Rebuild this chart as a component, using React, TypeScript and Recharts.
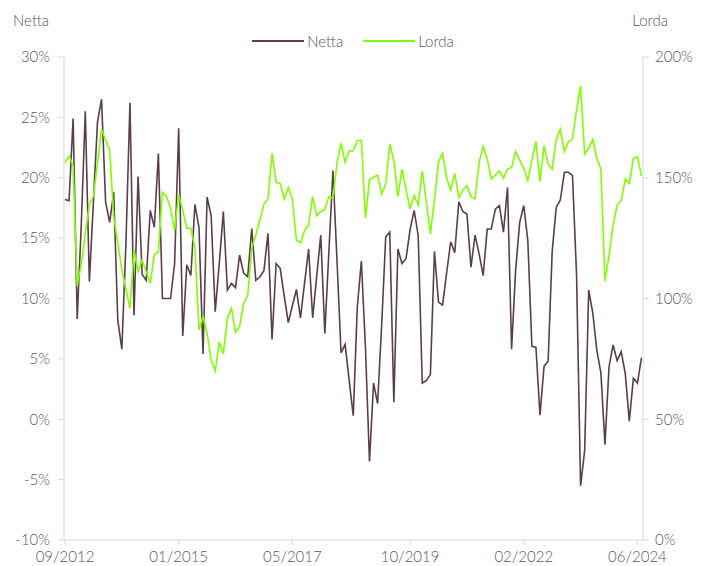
import { Legend, Line, LineChart, XAxis, YAxis } from "recharts";

const TEXT = "#595959";
const AXIS = "#d9d9d9";
const NETTA_COLOR = "#5b3e4c";
const LORDA_COLOR = "#80ff00";

// first month of the series, one point per month
const startYear = 2012;
const startMonth = 9;

const seriesNames = ["Netta", "Lorda"];

// rendimento netto, % (left axis)
const netta = [
  18.2, 18.1, 24.9, 8.3, 16.0, 25.5, 11.4, 18.0, 24.6, 26.5,
  18.0, 16.3, 18.8, 8.2, 5.8, 14.5, 26.2, 8.6, 20.1, 12.0,
  11.5, 17.3, 15.9, 22.0, 10.0, 10.0, 10.0, 12.9, 24.1, 6.9,
  12.8, 11.9, 17.8, 15.9, 5.4, 18.4, 16.85, 8.9, 12.9, 17.2,
  10.7, 11.25, 10.9, 13.6, 12.1, 11.8, 15.8, 11.5, 11.8, 12.3,
  15.4, 6.6, 12.9, 12.5, 10.2, 8.0, 9.4, 10.75, 8.4, 11.25,
  14.1, 8.4, 11.85, 15.25, 7.1, 13.9, 20.6, 13.1, 5.5, 6.2,
  3.2, 0.3, 9.3, 13.1, 6.0, -3.5, 3.0, 1.3, 7.8, 15.1,
  15.5, 1.4, 14.1, 12.9, 13.3, 15.7, 17.3, 15.2, 3.0, 3.2,
  3.7, 13.9, 9.7, 9.45, 12.1, 14.7, 13.8, 18.0, 17.2, 17.0,
  12.6, 15.25, 13.7, 11.9, 15.75, 15.75, 17.4, 17.7, 15.5, 19.2,
  5.8, 12.35, 16.3, 17.7, 14.8, 6.05, 5.95, 0.34, 4.4, 4.8,
  13.9, 17.55, 18.15, 20.45, 20.45, 20.2, 12.0, -5.5, -2.6, 10.7,
  8.8, 5.7, 3.85, -2.1, 4.35, 6.15, 4.85, 5.6, 3.8, -0.16,
  3.4, 3.0, 5.1,
];

// rendimento lordo, % (right axis)
const lorda = [
  156.2, 159, 155, 105, 114, 127, 139, 142.3, 156, 170.1,
  165.6, 161.5, 134, 123, 112, 104, 95.9, 120.1, 111.1, 116,
  111.1, 106.3, 118.2, 119.2, 144, 142.2, 137.5, 128.4, 143, 136.6,
  129.1, 129.1, 121, 87, 92.5, 85.6, 74.5, 70.1, 81.9, 77.0,
  91.8, 95.9, 86.0, 88.3, 98.0, 101.2, 120.8, 126.3, 132.5, 139.1,
  141.2, 160.1, 148.1, 147.7, 141.2, 146, 141.2, 124.2, 123.1, 128.1,
  130.4, 142.2, 134.3, 136, 136.9, 142.2, 141.5, 156, 164.3, 156.4,
  161.2, 161.2, 165.4, 165.4, 133.2, 149.1, 150.2, 151.1, 143.3, 147.3,
  164, 157.3, 142.2, 153.5, 145.2, 137.1, 142.6, 138.7, 152.8, 140.1,
  126.6, 140.8, 156.6, 160.1, 149.8, 144.9, 151.8, 141.8, 144.9, 146.7,
  142.2, 141.2, 156.4, 162.9, 157.8, 149.5, 151.1, 152.9, 149.8, 153.6,
  154.3, 160.8, 157.3, 153.9, 148.8, 157.3, 165, 148.4, 163.3, 155.6,
  153.6, 165.9, 170.1, 160.8, 164.9, 166, 178, 188, 159.8, 162.2,
  165.9, 158, 153.6, 107.25, 117.7, 130.4, 138.7, 140.5, 149.5, 147.7,
  158, 158.7, 150.7,
];

// x ticks: 09/2012, 01/2015, 05/2017, 10/2019, 02/2022, 06/2024
const xTicks = [0, 28, 56, 85, 113, 141];
const leftTicks = [-10, -5, 0, 5, 10, 15, 20, 25, 30];
const rightTicks = [0, 50, 100, 150, 200];

const monthLabel = (i: number) => {
  const m = startMonth - 1 + i;
  const mm = (m % 12) + 1;
  const yy = startYear + Math.floor(m / 12);
  return `${String(mm).padStart(2, "0")}/${yy}`;
};

const chartData = netta.map((v, i) => ({
  t: i,
  month: monthLabel(i),
  Netta: v,
  Lorda: lorda[i],
}));

const AxisTitle = (props: any) => {
  const { viewBox, value, side } = props;
  if (!viewBox) return null;
  const isLeft = side === "left";
  return (
    <text
      x={isLeft ? viewBox.x + 13 : viewBox.x + 25}
      y={viewBox.y - 31}
      textAnchor={isLeft ? "start" : "end"}
      fill={TEXT}
      fontSize={15}
      fontWeight={300}
    >
      {value}
    </text>
  );
};

// keep legend in series order (recharts sorts by name otherwise)
const LegendContent = (props: any) => {
  const items = [...(props.payload || [])].sort(
    (a: any, b: any) => seriesNames.indexOf(a.value) - seriesNames.indexOf(b.value)
  );
  return (
    <div style={{ display: "flex", justifyContent: "center", paddingLeft: 19, fontSize: 15, fontWeight: 300, color: TEXT }}>
      {items.map((entry: any) => (
        <div key={entry.value} style={{ display: "flex", alignItems: "center", marginRight: 20 }}>
          <svg width={52} height={20}>
            <line x1={0} y1={10} x2={52} y2={10} stroke={entry.color} strokeWidth={2} />
          </svg>
          <span style={{ marginLeft: 3 }}>{entry.value}</span>
        </div>
      ))}
    </div>
  );
};

const tickStyle = { fontSize: 15, fill: TEXT, fontWeight: 300 };

const App = () => (
  <div style={{ position: "absolute", left: 0, top: 0, fontFamily: "Lato, sans-serif" }}>
    <LineChart width={707} height={566} data={chartData} margin={{ top: 57, right: 0, bottom: 0, left: 0 }}>
      <XAxis
        dataKey="t"
        type="number"
        domain={[0, 142]}
        ticks={xTicks}
        interval={0}
        tickFormatter={monthLabel}
        padding={{ left: 1, right: 1.5 }}
        height={26}
        tickSize={5}
        tickMargin={6}
        tick={tickStyle}
        axisLine={{ stroke: AXIS }}
        tickLine={{ stroke: AXIS }}
      />
      <YAxis
        yAxisId="left"
        width={64}
        domain={[-10, 30]}
        ticks={leftTicks}
        interval={0}
        tickFormatter={(v) => `${v}%`}
        tickSize={6}
        tickMargin={8}
        tick={tickStyle}
        axisLine={{ stroke: AXIS }}
        tickLine={{ stroke: AXIS }}
        label={<AxisTitle value="Netta" side="left" />}
      />
      <YAxis
        yAxisId="right"
        orientation="right"
        width={64}
        domain={[0, 200]}
        ticks={rightTicks}
        interval={0}
        tickFormatter={(v) => `${v}%`}
        tickSize={6}
        tickMargin={6}
        tick={tickStyle}
        axisLine={{ stroke: AXIS }}
        tickLine={{ stroke: AXIS }}
        label={<AxisTitle value="Lorda" side="right" />}
      />
      <Legend verticalAlign="middle" content={<LegendContent />} wrapperStyle={{ top: 31, left: 0, width: 707, lineHeight: "20px" }} />
      <Line yAxisId="left" type="linear" dataKey="Netta" stroke={NETTA_COLOR} strokeWidth={1.6} dot={false} isAnimationActive={false} />
      <Line yAxisId="right" type="linear" dataKey="Lorda" stroke={LORDA_COLOR} strokeWidth={1.6} dot={false} isAnimationActive={false} />
    </LineChart>
  </div>
);

export default App;
